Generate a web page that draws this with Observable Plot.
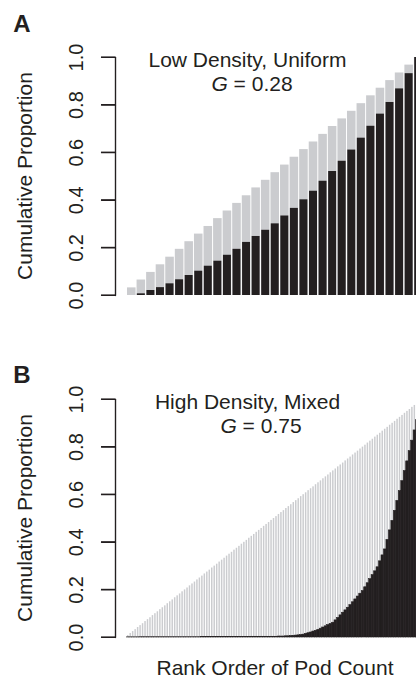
<!DOCTYPE html>
<html><head><meta charset="utf-8">
<script src="https://cdn.jsdelivr.net/npm/d3@7"></script>
<script src="https://cdn.jsdelivr.net/npm/@observablehq/plot@0.6"></script>
<style>
html,body{margin:0;padding:0;background:#fff;}
#chart{position:relative;width:416px;height:680px;overflow:hidden;}
#chart svg{position:absolute;left:0;}
</style></head><body><div id="chart"></div>
<script>
// ---- data ----
const yTicks = [0, 0.2, 0.4, 0.6, 0.8, 1.0];
const yLabel = "Cumulative Proportion";
const xLabel = "Rank Order of Pod Count";

// Panel A: Low Density, Uniform (31 plants)
const titleA = "Low Density, Uniform";
const giniA = "0.28";
const grayA = [0.032,0.065,0.097,0.129,0.161,0.194,0.226,0.258,0.290,0.323,0.355,0.387,0.419,0.452,0.484,0.516,0.548,0.581,0.613,0.645,0.677,0.710,0.742,0.774,0.806,0.839,0.871,0.903,0.935,0.968,1.000];
const blackA = [0.000,0.007,0.021,0.033,0.049,0.066,0.084,0.102,0.123,0.144,0.169,0.194,0.223,0.248,0.274,0.301,0.334,0.366,0.402,0.438,0.480,0.521,0.564,0.611,0.661,0.711,0.762,0.811,0.868,0.932,1.000];

// Panel B: High Density, Mixed (120 plants)
const titleB = "High Density, Mixed";
const giniB = "0.75";
const grayB = [0.008,0.017,0.025,0.033,0.042,0.050,0.058,0.067,0.075,0.083,0.092,0.100,0.108,0.117,0.125,0.133,0.142,0.150,0.158,0.167,0.175,0.183,0.192,0.200,0.208,0.217,0.225,0.233,0.242,0.250,0.258,0.267,0.275,0.283,0.292,0.300,0.308,0.317,0.325,0.333,0.342,0.350,0.358,0.367,0.375,0.383,0.392,0.400,0.408,0.417,0.425,0.433,0.442,0.450,0.458,0.467,0.475,0.483,0.492,0.500,0.508,0.517,0.525,0.533,0.542,0.550,0.558,0.567,0.575,0.583,0.592,0.600,0.608,0.617,0.625,0.633,0.642,0.650,0.658,0.667,0.675,0.683,0.692,0.700,0.708,0.717,0.725,0.733,0.742,0.750,0.758,0.767,0.775,0.783,0.792,0.800,0.808,0.817,0.825,0.833,0.842,0.850,0.858,0.867,0.875,0.883,0.892,0.900,0.908,0.917,0.925,0.933,0.942,0.950,0.958,0.967,0.975,0.983,0.992,1.000];
const blackB = [0.0005,0.0005,0.0005,0.0005,0.0005,0.001,0.001,0.001,0.001,0.001,0.001,0.001,0.001,0.001,0.001,0.001,0.001,0.001,0.001,0.001,0.001,0.001,0.001,0.001,0.001,0.001,0.001,0.001,0.001,0.001,0.002,0.002,0.002,0.002,0.002,0.002,0.002,0.002,0.002,0.002,0.002,0.002,0.002,0.002,0.002,0.002,0.002,0.002,0.002,0.002,0.003,0.003,0.003,0.003,0.003,0.003,0.003,0.003,0.003,0.003,0.003,0.004,0.004,0.004,0.005,0.005,0.006,0.007,0.008,0.009,0.010,0.012,0.015,0.018,0.021,0.025,0.028,0.032,0.037,0.042,0.047,0.052,0.057,0.062,0.072,0.082,0.093,0.104,0.114,0.125,0.136,0.148,0.160,0.172,0.184,0.195,0.211,0.228,0.245,0.262,0.278,0.295,0.320,0.345,0.370,0.410,0.450,0.490,0.532,0.574,0.615,0.657,0.699,0.740,0.783,0.827,0.870,0.913,0.957,1.000];

// ---- styles ----
const INK = "#231f20";
const GRAY = "#cbcccf";
const FONT = "'Liberation Sans', Arial, Helvetica, sans-serif";

const tickShape = {draw(ctx, l) { ctx.moveTo(0, 0); ctx.lineTo(-l, 0); }};

function panel({gray, black, title, gini, letter, letterY, giniX, height, top, insetG, insetK, blackStroke, showX}) {
  const data = gray.map((g, i) => ({rank: i + 1, gray: g, black: black[i]}));
  const svg = Plot.plot({
    width: 416,
    height,
    marginLeft: 115,
    marginRight: 0,
    marginTop: 57,
    marginBottom: height - 57 - 238,
    x: {type: "band", domain: data.map(d => d.rank), range: [126.5, 423], padding: 0, round: false, axis: null},
    y: {domain: [0, 1], axis: null},
    style: {fontFamily: FONT, color: INK, background: "white", overflow: "hidden"},
    marks: [
      Plot.barY(data, {x: "rank", y: "gray", fill: GRAY, insetLeft: insetG, insetRight: insetG}),
      Plot.barY(data, {x: "rank", y: "black", fill: INK, insetLeft: insetK, insetRight: insetK,
        stroke: blackStroke ? INK : null, strokeWidth: blackStroke ? 0.6 : null}),
      Plot.frame({anchor: "left", stroke: INK, strokeWidth: 1.2}),
      Plot.vector(yTicks, {y: d => d, frameAnchor: "left", length: 14, shape: tickShape,
        anchor: "start", stroke: INK, strokeWidth: 1.2}),
      Plot.text(yTicks, {y: d => d, frameAnchor: "left", text: d => d.toFixed(1), rotate: -90,
        dx: -39, textAnchor: "middle", fontSize: 20, fill: INK})
    ]
  });
  svg.style.top = top + "px";
  const s = d3.select(svg);
  // y axis line and ticks, placed through Plot's own y scale (drawn on top)
  const ys = svg.scale("y");
  const y0 = ys.apply(0), y1 = ys.apply(1);
  const axisG = s.append("g").attr("stroke", INK).attr("stroke-width", 1.2).attr("fill", "none");
  axisG.append("line").attr("x1", 115.5).attr("x2", 115.5).attr("y1", y1).attr("y2", y0);
  yTicks.forEach(t => {
    const yy = ys.apply(t);
    axisG.append("line").attr("x1", 101).attr("x2", 115.5).attr("y1", yy).attr("y2", yy);
  });
  s.append("text").attr("x", 22).attr("y", letterY).attr("font-size", 24)
    .attr("font-weight", "bold").attr("fill", INK).text(letter);
  s.append("text").attr("transform", "translate(32,176) rotate(-90)").attr("text-anchor", "middle")
    .attr("font-size", 21).attr("fill", INK).text(yLabel);
  s.append("text").attr("x", 247.5).attr("y", 67).attr("text-anchor", "middle")
    .attr("font-size", 21).attr("fill", INK).text(title);
  const g = s.append("text").attr("x", giniX).attr("y", 91).attr("text-anchor", "middle")
    .attr("font-size", 21).attr("fill", INK);
  g.append("tspan").attr("font-style", "italic").text("G");
  g.append("tspan").text(" = " + gini);
  if (showX) {
    s.append("text").attr("x", 275).attr("y", height - 5).attr("text-anchor", "middle")
      .attr("font-size", 21).attr("fill", INK).text(xLabel);
  }
  return svg;
}

const root = document.getElementById("chart");
root.append(panel({gray: grayA, black: blackA, title: titleA, gini: giniA, letter: "A", letterY: 32,
  giniX: 252, height: 340, top: 0, insetG: 0.5, insetK: 0.8, blackStroke: false, showX: false}));
root.append(panel({gray: grayB, black: blackB, title: titleB, gini: giniB, letter: "B", letterY: 41,
  giniX: 261, height: 338, top: 342, insetG: 0.5, insetK: 0, blackStroke: true, showX: true}));
</script></body></html>
